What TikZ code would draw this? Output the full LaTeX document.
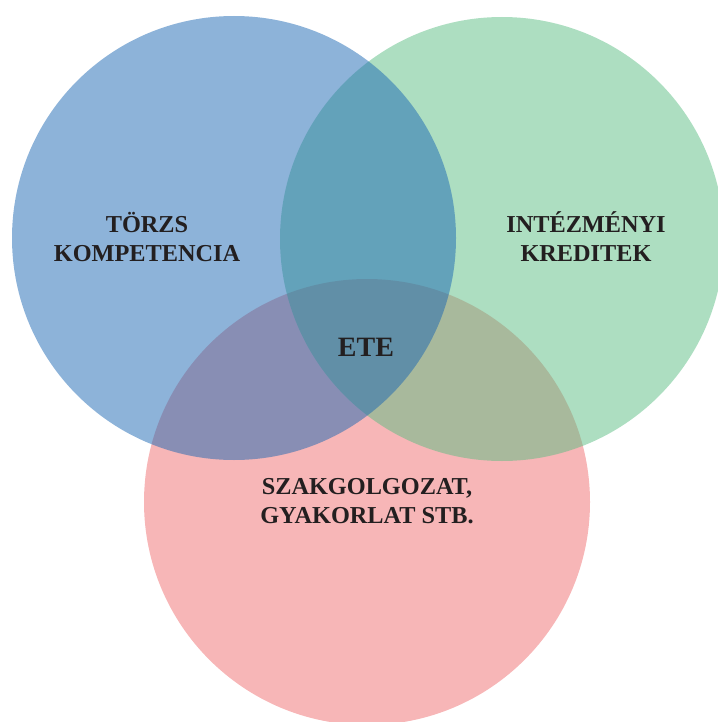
\documentclass[tikz,border=0pt]{standalone}
\usepackage{fontspec}
\setmainfont{Liberation Serif}
\definecolor{blueset}{HTML}{1B67B3}
\definecolor{greenset}{HTML}{5BBD83}
\definecolor{pinkset}{HTML}{EF6D6F}
\definecolor{labeltext}{HTML}{231F20}
\begin{document}
\begin{tikzpicture}[x=1pt,y=-1pt,
  setcircle/.style={fill opacity=0.5,draw=none},
  setlabel/.style={align=center,text=labeltext,font=\bfseries\fontsize{24.3}{29}\selectfont}]
  \useasboundingbox (0,0) rectangle (717,722);
  % three sets, bottom one first
  \fill[setcircle,pinkset] (367,502) circle[radius=223pt];
  \fill[setcircle,greenset] (502,239) circle[radius=222pt];
  \fill[setcircle,blueset] (234,238) circle[radius=222pt];
  % labels
  \node[setlabel] (torzs) at (147,237) {TÖRZS\\KOMPETENCIA};
  \node[setlabel] (intezmenyi) at (586,237) {INTÉZMÉNYI\\KREDITEK};
  \node[setlabel] (szak) at (367,501) {SZAKGOLGOZAT,\\GYAKORLAT STB.};
  \node[setlabel,font=\bfseries\fontsize{28}{34}\selectfont] (ete) at (366,347) {ETE};
\end{tikzpicture}
\end{document}
